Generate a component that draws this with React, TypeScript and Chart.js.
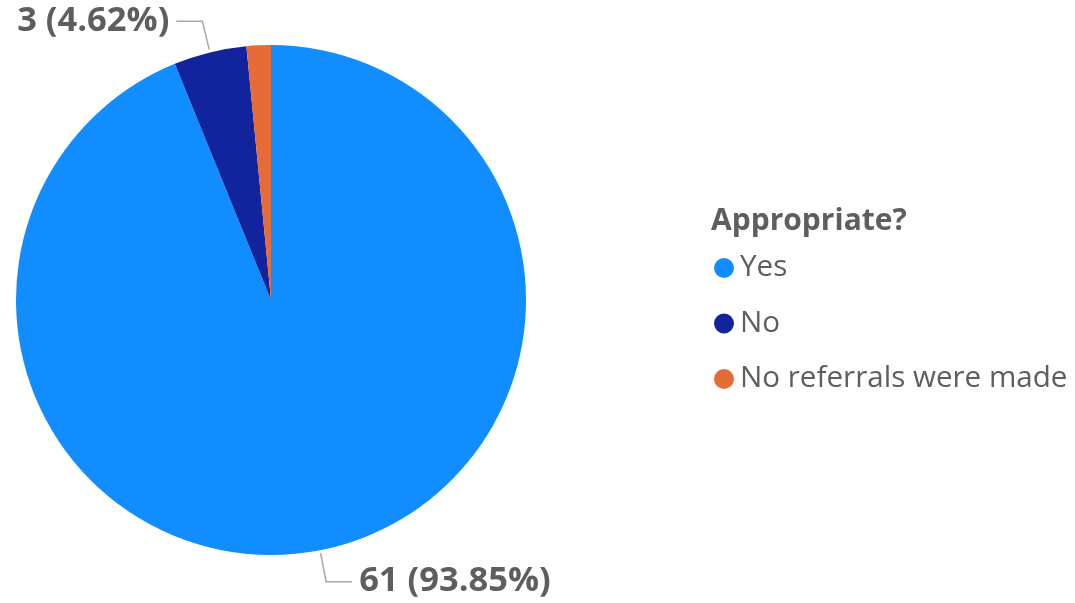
import React, { useEffect, useRef } from "react";
import { Chart, registerables } from "chart.js";

Chart.register(...registerables);

const legendTitle = "Appropriate?";
const categories = ["Yes", "No", "No referrals were made"];
const counts = [61, 3, 1];
const colors = ["#118DFF", "#12239E", "#E66C37"];
const labelledSlices = [0, 1];

const TEXT_COLOR = "#605E5C";
const FONT = "'Segoe UI', 'Open Sans', sans-serif";

const dataLabelPlugin = {
  id: "dataLabels",
  afterDatasetsDraw(chart: any) {
    const ctx = chart.ctx;
    const meta = chart.getDatasetMeta(0);
    const values: number[] = chart.data.datasets[0].data;
    const total = values.reduce((a, b) => a + b, 0);
    ctx.save();
    labelledSlices.forEach((i) => {
      const arc = meta.data[i];
      const p = arc.getProps(["x", "y", "startAngle", "endAngle", "outerRadius"], true);
      const mid = (p.startAngle + p.endAngle) / 2;
      const dx = Math.cos(mid);
      const dy = Math.sin(mid);
      const sx = p.x + dx * (p.outerRadius + 3);
      const sy = p.y + dy * (p.outerRadius + 3);
      const ex = p.x + dx * (p.outerRadius + 32);
      const ey = p.y + dy * (p.outerRadius + 32);
      const side = dx >= 0 ? 1 : -1;
      const hx = ex + side * 26;
      ctx.strokeStyle = "#A8A8A8";
      ctx.lineWidth = 1.5;
      ctx.beginPath();
      ctx.moveTo(sx, sy);
      ctx.lineTo(ex, ey);
      ctx.lineTo(hx, ey);
      ctx.stroke();
      const pct = ((values[i] / total) * 100).toFixed(2);
      const text = `${values[i]} (${pct}%)`;
      ctx.font = `bold 34.5px ${FONT}`;
      ctx.fillStyle = TEXT_COLOR;
      ctx.textBaseline = "middle";
      ctx.textAlign = side > 0 ? "left" : "right";
      ctx.fillText(text, hx + side * 7, ey);
    });
    ctx.restore();
  },
};

const legendPlugin = {
  id: "customLegend",
  afterDraw(chart: any) {
    const ctx = chart.ctx;
    ctx.save();
    ctx.fillStyle = TEXT_COLOR;
    ctx.textAlign = "left";
    ctx.textBaseline = "alphabetic";
    ctx.font = `bold 30px ${FONT}`;
    ctx.fillText(legendTitle, 711, 230);
    categories.forEach((c, i) => {
      const cy = 268 + i * 55.5;
      ctx.fillStyle = colors[i];
      ctx.beginPath();
      ctx.arc(724, cy, 10, 0, Math.PI * 2);
      ctx.fill();
      ctx.fillStyle = TEXT_COLOR;
      ctx.font = `29.6px ${FONT}`;
      ctx.textBaseline = "middle";
      ctx.fillText(c, 740, cy);
    });
    ctx.restore();
  },
};

export default function App() {
  const ref = useRef<HTMLCanvasElement>(null);
  useEffect(() => {
    if (!ref.current) return;
    const chart = new Chart(ref.current, {
      type: "pie",
      data: {
        labels: categories,
        datasets: [
          {
            data: counts,
            backgroundColor: colors,
            borderWidth: 0,
          },
        ],
      },
      options: {
        responsive: false,
        animation: false,
        layout: { padding: { left: 16, top: 45, right: 549, bottom: 48 } },
        plugins: {
          legend: { display: false },
          tooltip: { enabled: false },
        },
      },
      plugins: [dataLabelPlugin, legendPlugin],
    });
    return () => chart.destroy();
  }, []);
  return (
    <div style={{ position: "fixed", left: 0, top: 0, width: 1075, height: 603, background: "#fff" }}>
      <canvas ref={ref} width={1075} height={603} style={{ width: 1075, height: 603 }} />
    </div>
  );
}
